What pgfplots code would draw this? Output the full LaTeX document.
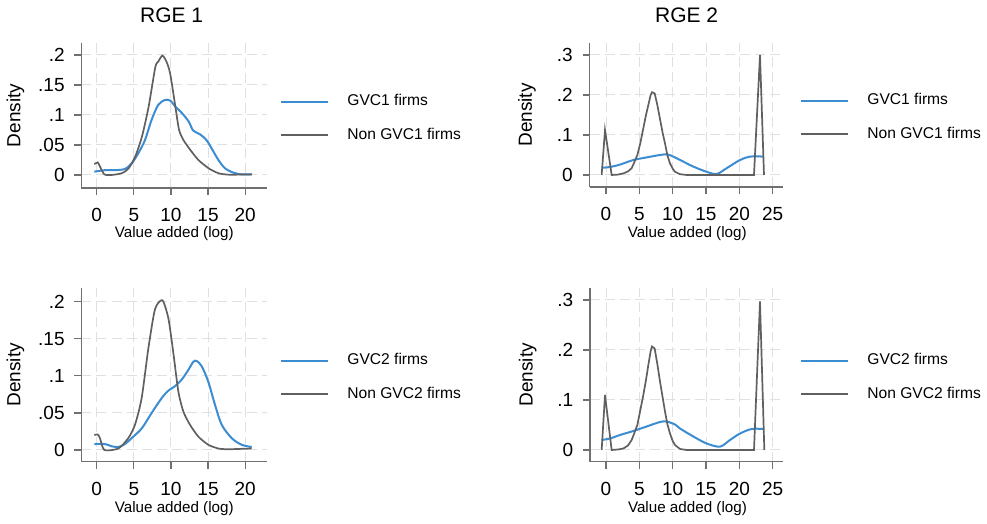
\documentclass[border=0pt]{standalone}
\usepackage{fontspec}
\setmainfont{Liberation Sans}
\usepackage{pgfplots}
\pgfplotsset{compat=1.18}

\definecolor{gvcblue}{HTML}{3C8CD2}
\definecolor{nongray}{HTML}{606060}
\definecolor{axgray}{HTML}{707070}

\pgfplotsset{
  every axis title shift=0pt,
  kd/.style={
    scale only axis, anchor=south west,
    axis x line*=bottom, axis y line*=left,
    axis line style={axgray, line width=0.6pt},
    tick align=outside, major tick length=3.5pt,
    tick style={axgray, line width=0.6pt},
    grid=major,
    major grid style={black!12, line width=0.5pt, dash pattern=on 5pt off 2.5pt},
    xticklabel style={font=\fontsize{9.5}{11}\selectfont, anchor=base, inner sep=0pt, yshift=-13.5pt},
    yticklabel style={font=\fontsize{9.5}{11}\selectfont, anchor=east, inner sep=0pt, xshift=-4.75pt},
    ylabel=Density,
    ylabel style={font=\fontsize{9.5}{11}\selectfont, anchor=center},
    xlabel={Value added (log)},
    xlabel style={font=\fontsize{7.6}{9}\selectfont, anchor=base},
    title style={font=\fontsize{10.5}{12}\selectfont, anchor=base, yshift=0pt},
    legend style={draw=none, fill=none, inner sep=0pt, anchor=west,
      font=\fontsize{7.8}{9}\selectfont, row sep=9.5pt,
      nodes={inner sep=0pt},
      /tikz/every odd column/.append style={column sep=9pt}},
    legend cell align=left,
    legend image code/.code={\draw[#1] (0pt,0pt) -- (23.5pt,0pt);},
  },
  gvc/.style={gvcblue, line width=1pt, smooth, tension=0.5, mark=none},
  non/.style={nongray, line width=0.85pt, mark=none},
}

\begin{document}
\begin{tikzpicture}
\path[use as bounding box] (0,0) rectangle (493.5pt,262pt);

% RGE 1, GVC1
\begin{axis}[kd,
  at={(40.75pt,168pt)}, width=92.75pt, height=72.5pt,
  xmin=-2.05, xmax=22.95, ymin=-0.0217, ymax=0.22,
  xtick={0,5,10,15,20}, xticklabels={0,5,10,15,20},
  ytick={0,0.05,0.1,0.15,0.2}, yticklabels={0,.05,.1,.15,.2},
  title={RGE 1}, title style={at={(axis description cs:0.486,1.14)}},
  ylabel style={at={(axis description cs:-0.356,0.5)}},
  xlabel style={at={(axis description cs:0.5,-0.34)}},
  legend style={at={(axis description cs:1.07,0.480)}},
]
\addplot[gvc] coordinates {
  (-0.32,0.0055) (1.1,0.008) (2.5,0.008) (3.8,0.010) (4.7,0.019) (5.6,0.036)
  (6.5,0.058) (7.4,0.092) (8.3,0.117) (9.2,0.125) (9.9,0.124) (10.6,0.114)
  (11.5,0.103) (12.4,0.089) (13.0,0.074) (13.9,0.068) (14.8,0.058) (15.5,0.044)
  (16.4,0.025) (17.3,0.011) (18.4,0.004) (19.5,0.001) (20.9,0.001)
};
\addlegendentry{GVC1 firms}
\addplot[non, smooth, tension=0.4] coordinates {
  (-0.32,0.018) (0.13,0.021) (0.44,0.014) (1.03,0.001) (2.0,0.0) (3.4,0.003)
  (4.3,0.011) (5.2,0.031) (6.1,0.064) (7.0,0.114) (7.9,0.18) (8.3,0.189)
  (8.85,0.199) (9.4,0.189) (9.9,0.169) (10.6,0.114) (11.1,0.075) (11.7,0.058)
  (12.6,0.042) (13.7,0.025) (15.1,0.011) (16.4,0.003) (17.8,0.0005) (20.9,0.001)
};
\addlegendentry{Non GVC1 firms}
\end{axis}

% RGE 2, GVC1
\begin{axis}[kd,
  at={(294.75pt,168.5pt)}, width=96.75pt, height=72pt,
  xmin=-2.475, xmax=26.55, ymin=-0.03, ymax=0.33,
  xtick={0,5,10,15,20,25}, xticklabels={0,5,10,15,20,25},
  ytick={0,0.1,0.2,0.3}, yticklabels={0,.1,.2,.3},
  title={RGE 2}, title style={at={(axis description cs:0.502,1.141)}},
  ylabel style={at={(axis description cs:-0.323,0.5)}},
  xlabel style={at={(axis description cs:0.505,-0.349)}},
  legend style={at={(axis description cs:1.088,0.483)}},
]
\addplot[gvc] coordinates {
  (-0.65,0.018) (0.6,0.020) (2.1,0.026) (4.1,0.0375) (6.1,0.044) (8.1,0.050)
  (9.35,0.051) (11.1,0.0375) (13.1,0.021) (15.1,0.008) (16.6,0.0025)
  (18.1,0.017) (20.1,0.0375) (21.6,0.046) (23.6,0.046)
};
\addlegendentry{GVC1 firms}
\addplot[non] coordinates {
  (-0.65,0) (-0.15,0.1125) (0.85,0) (1.8,0.001) (2.6,0.004) (3.3,0.009)
  (3.85,0.017) (4.2,0.03) (4.7,0.05) (5.15,0.08) (5.6,0.117) (6.0,0.15)
  (6.35,0.175) (6.7,0.2) (6.9,0.207) (7.3,0.204) (7.7,0.175) (8.1,0.14)
  (8.5,0.105) (8.85,0.079) (9.2,0.05) (9.6,0.029) (10.0,0.016) (10.35,0.008)
  (11.1,0.002) (12.1,0) (22.2,0) (23.1,0.3) (23.7,0)
};
\addlegendentry{Non GVC1 firms}
\end{axis}

% RGE 1, GVC2
\begin{axis}[kd,
  at={(40.75pt,31.15pt)}, width=92.75pt, height=86.85pt,
  xmin=-2.05, xmax=22.95, ymin=-0.0158, ymax=0.2185,
  xtick={0,5,10,15,20}, xticklabels={0,5,10,15,20},
  ytick={0,0.05,0.1,0.15,0.2}, yticklabels={0,.05,.1,.15,.2},
  ylabel style={at={(axis description cs:-0.356,0.5)}},
  xlabel style={at={(axis description cs:0.5,-0.294)}},
  legend style={at={(axis description cs:1.07,0.486)}},
]
\addplot[gvc] coordinates {
  (-0.32,0.008) (1.12,0.008) (2.02,0.005) (2.92,0.004) (3.81,0.008) (4.71,0.016)
  (6.06,0.029) (7.41,0.050) (8.76,0.070) (9.65,0.080) (10.55,0.086) (11.46,0.095)
  (12.35,0.108) (13.02,0.119) (13.48,0.120) (14.15,0.113) (15.04,0.092)
  (15.94,0.061) (16.85,0.034) (18.19,0.016) (19.54,0.007) (20.89,0.004)
};
\addlegendentry{GVC2 firms}
\addplot[non, smooth, tension=0.4] coordinates {
  (-0.32,0.020) (0.13,0.021) (0.44,0.016) (1.03,0.0) (2.92,0.002) (4.26,0.016)
  (5.16,0.034) (6.06,0.070) (6.96,0.137) (7.86,0.190) (8.85,0.202) (9.65,0.178)
  (10.3,0.133) (11.0,0.079) (11.67,0.052) (12.57,0.034) (13.7,0.018)
  (15.04,0.007) (16.39,0.002) (17.74,0.001) (20.89,0.002)
};
\addlegendentry{Non GVC2 firms}
\end{axis}

% RGE 2, GVC2
\begin{axis}[kd,
  at={(295pt,31.15pt)}, width=96.5pt, height=86.85pt,
  xmin=-2.4, xmax=26.55, ymin=-0.0234, ymax=0.324,
  xtick={0,5,10,15,20,25}, xticklabels={0,5,10,15,20,25},
  ytick={0,0.1,0.2,0.3}, yticklabels={0,.1,.2,.3},
  ylabel style={at={(axis description cs:-0.323,0.5)}},
  xlabel style={at={(axis description cs:0.505,-0.294)}},
  legend style={at={(axis description cs:1.088,0.486)}},
]
\addplot[gvc] coordinates {
  (-0.65,0.020) (0.6,0.023) (2.1,0.030) (4.1,0.038) (6.1,0.047) (8.1,0.056)
  (9.1,0.057) (10.35,0.051) (11.1,0.043) (13.1,0.027) (15.1,0.013)
  (17.1,0.0067) (18.6,0.020) (20.1,0.033) (21.85,0.042) (23.6,0.042)
};
\addlegendentry{GVC2 firms}
\addplot[non] coordinates {
  (-0.65,0) (-0.15,0.11) (0.85,0) (1.8,0.001) (2.6,0.003) (3.3,0.009)
  (3.85,0.02) (4.2,0.032) (4.7,0.05) (5.15,0.08) (5.6,0.11) (6.0,0.14)
  (6.35,0.17) (6.7,0.198) (6.9,0.207) (7.3,0.203) (7.7,0.172) (8.1,0.137)
  (8.5,0.105) (8.85,0.077) (9.2,0.052) (9.6,0.033) (10.0,0.018) (10.35,0.01)
  (11.1,0.002) (12.1,0) (22.2,0) (23.1,0.297) (23.75,0)
};
\addlegendentry{Non GVC2 firms}
\end{axis}
\end{tikzpicture}
\end{document}
